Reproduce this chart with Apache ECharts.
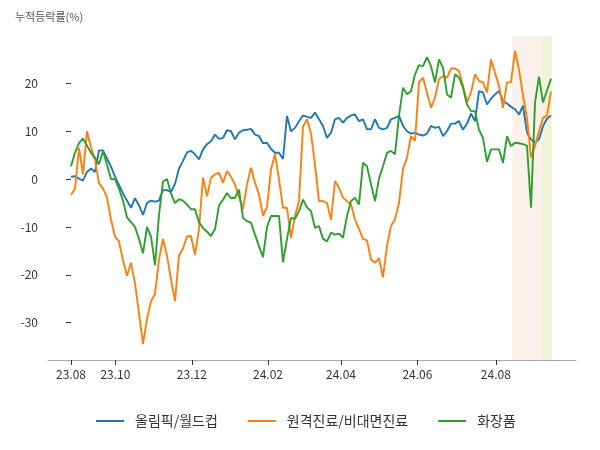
<!DOCTYPE html>
<html><head><meta charset="utf-8">
<script src="https://cdn.jsdelivr.net/npm/echarts@6/dist/echarts.min.js"></script>
<style>html,body{margin:0;padding:0;background:#fff}#c{width:600px;height:450px}</style>
</head><body><div id="c"></div>
<script>
const seriesNames = ['올림픽/월드컵', '원격진료/비대면진료', '화장품'];
const olympic = [0.5,0.6,0.1,-0.3,1.5,2.2,1.5,6.0,6.0,4.3,2.6,0.5,-1.2,-3,-4.5,-6,-4,-5.5,-7.5,-5,-4.5,-4.7,-4.5,-2.3,-2.3,-2.7,-1,2.2,3.8,5.6,
5.9,5.2,4.1,6.2,7.3,7.9,9.3,8.4,8.6,10.2,10,8.3,9.7,10.2,10.3,10.5,9.3,9,7.5,7.6,6.3,5.5,5.5,4.2,13.2,10,10.7,12.1,13.3,13,
12.8,13.9,12.5,11.1,8.6,9.7,12.5,12.8,11.8,12.8,13.3,13.5,12.1,12.5,10.4,10.4,12.5,10.7,10.4,10.7,12.5,12.8,13.2,11.1,10,9.5,9.7,9.3,9.1,9.5,
11.1,10.7,10.9,9,10,11.6,11.6,12.1,10.3,11.6,13.7,12.1,18.4,18.1,15.6,16.8,17.7,18.4,16.3,15.8,15.1,14.6,13.5,15.3,9.7,8.3,7.6,8.3,11.1,12.6,13.3];
const remote = [-3.3,-2,6.5,1.0,10,6.6,4,-0.9,-2,-3.8,-8.5,-12,-13,-17,-20.2,-17.5,-21.8,-28,-34.5,-29.2,-25.5,-24,-16.8,-12.5,-16,-21,-25.5,-16,-14.5,-12,
-11.9,-15.8,-10.4,0.3,-3.6,0.3,1.0,1.3,-0.8,1.7,0.5,-1.1,-3.8,-6.2,-1.1,2.4,-0.8,-3.2,-7.7,-5.8,2,5.2,0,-6,-6,-12.3,-7.7,-4.6,11,12.5,
9.5,3,-4.6,-4.6,-5,-8.5,-0.4,-1.8,-3.9,-4.6,-5.3,-8.4,-10.4,-12.5,-12.8,-16.8,-17.5,-16.5,-20.5,-14,-9.8,-8.4,-5,2.2,4.5,9,8,20.2,21.2,18.1,
14.9,17,20.9,21.5,21.2,23.1,23.1,22.6,19.5,16,18.1,21.9,20.5,20.2,18.1,25,22.2,19.5,14.9,20.2,20.2,26.8,22.9,17.5,12.7,4.5,7,10,12.8,13.3,18.3];
const cosmetics = [2.7,5.5,7.5,8.5,7.0,5.5,4.5,3.1,5.8,3.0,0,0,-2,-4.5,-8,-9,-10,-12.5,-15.5,-10,-12,-18,-7.5,-0.5,0,-3,-5,-4.2,-4.5,-5.3,
-6.3,-6.3,-9,-10.2,-11,-11.9,-10.5,-5.5,-4.3,-2.9,-4,-3.9,-2.2,-8.1,-8.8,-9.1,-11.6,-14,-16.3,-10,-7.7,-7.7,-7.7,-17.4,-12.5,-8.1,-8.3,-6.7,-4.3,-5.9,
-6.7,-10.2,-9.8,-12.5,-13,-11.2,-11.6,-11.4,-12.2,-7.7,-4.6,-3.9,-5.3,3.4,2.7,-1.1,-4.6,0.1,2.7,5.5,5.9,5.2,13.2,19.1,17.7,18.4,21.9,23.8,23.6,25.5,
23.6,20.2,25,23.3,17.7,17,21.9,21.2,19.1,15.6,14.2,14.2,10.3,8.6,3.6,6.2,6.2,6.2,3.4,9,6.9,7.6,7.5,7.3,7,-6,16,21.4,16,18.5,21];
const xTickPos = [0, 11.1, 30.2, 49.25, 67.5, 86.6, 106.2];
const xTickLabels = ['23.08', '23.10', '23.12', '24.02', '24.04', '24.06', '24.08'];
const yTicks = [-30, -20, -10, 0, 10, 20];
const shadeRanges = [[110.3, 117.7], [117.7, 120.2]];

const colors = ['#1f77b4', '#ff7f0e', '#2ca02c'];
const shadeColors = ['#faf2ea', '#f4f1d9'];
const font = "'Noto Sans CJK KR', 'Noto Sans', sans-serif";
const toPairs = arr => arr.map((v, i) => [i, v]);

const chart = echarts.init(document.getElementById('c'));
const series = [{
  type: 'line', name: '_shade', data: [], silent: true,
  markArea: {
    silent: true,
    data: shadeRanges.map((r, i) => [{ xAxis: r[0], itemStyle: { color: shadeColors[i] } }, { xAxis: r[1] }])
  }
}].concat([olympic, remote, cosmetics].map((arr, i) => ({
  type: 'line', name: seriesNames[i], data: toPairs(arr),
  showSymbol: false, symbol: 'none',
  lineStyle: { width: 1.9, color: colors[i] },
  itemStyle: { color: colors[i] },
  z: 3
})));

chart.setOption({
  animation: false,
  backgroundColor: '#fff',
  title: {
    text: '누적등락률(%)', left: 10, top: 6,
    textStyle: { fontSize: 11, color: '#555', fontWeight: 'normal', fontFamily: font }
  },
  legend: {
    data: seriesNames, left: 91, top: 409, icon: 'rect', itemWidth: 28, itemHeight: 2, itemGap: 30,
    textStyle: { fontSize: 14, color: '#333', fontFamily: font, padding: [0, 0, 0, 6] }
  },
  grid: { left: 48, right: 24, top: 36, bottom: 90 },
  xAxis: {
    type: 'value', min: -5.75, max: 126.25,
    axisLine: { show: true, onZero: false, lineStyle: { color: '#aaa', width: 1 } },
    axisTick: { show: true, customValues: xTickPos, length: 5, lineStyle: { color: '#333' } },
    axisLabel: {
      customValues: xTickPos, color: '#333', fontSize: 12, fontFamily: font, margin: 8,
      formatter: v => {
        let best = 0;
        xTickPos.forEach((p, i) => { if (Math.abs(p - v) < Math.abs(xTickPos[best] - v)) best = i; });
        return xTickLabels[best];
      }
    },
    splitLine: { show: false }
  },
  yAxis: {
    type: 'value', min: -37.8, max: 29.9,
    axisLine: { show: false },
    axisTick: { show: true, customValues: yTicks, length: 5, lineStyle: { color: '#333' } },
    axisLabel: { customValues: yTicks, color: '#333', fontSize: 12, fontFamily: font, margin: 10 },
    splitLine: { show: false }
  },
  series: series
});
</script></body></html>
